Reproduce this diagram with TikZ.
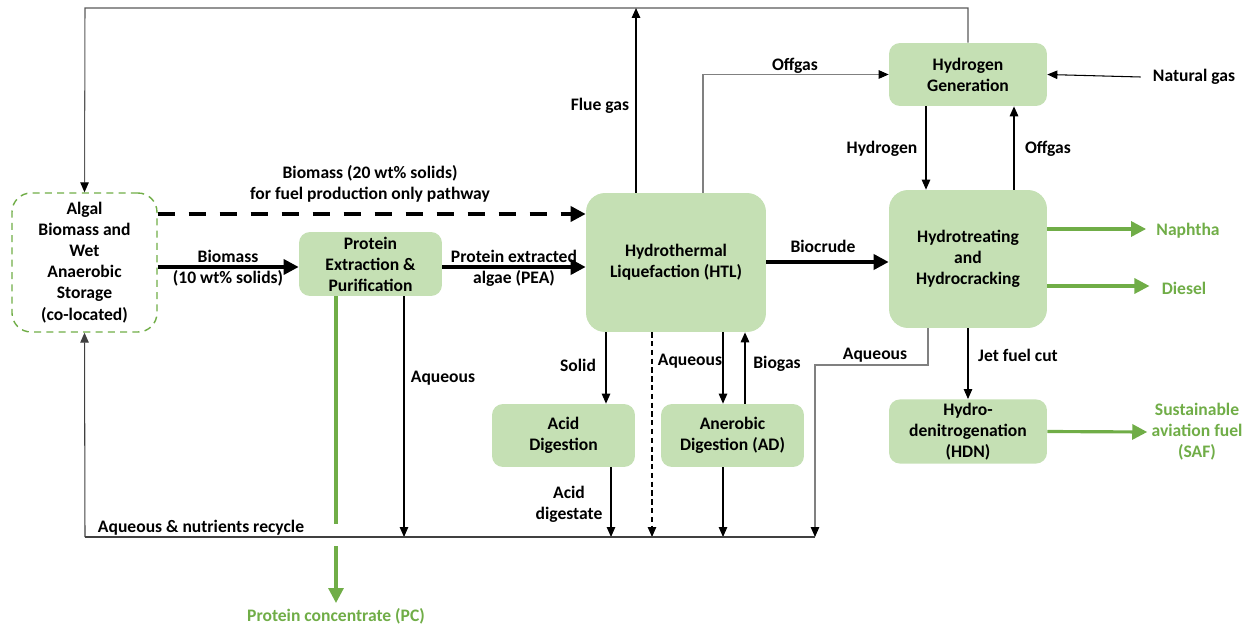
\documentclass[tikz,border=0pt]{standalone}
\usepackage{fontspec}
\setmainfont{Carlito}
\usepackage{xcolor}
\usepackage{tikz}
\usetikzlibrary{positioning,calc,arrows.meta}

\definecolor{boxgreen}{HTML}{C5E0B4}
\definecolor{leafgreen}{HTML}{70AD47}

\tikzset{
	unit/.style={fill=boxgreen, rounded corners=0.22cm, align=center, inner sep=2pt, font=\bfseries\fontsize{10}{12}\selectfont},
	bigunit/.style={unit, rounded corners=0.38cm},
	lbl/.style={align=center, inner sep=0, font=\bfseries\fontsize{10}{12}\selectfont},
	flow/.style={line width=0.6pt, -{Triangle[length=0.2cm,width=0.17cm]}},
	feed/.style={black!50, line width=0.6pt, -{Triangle[length=0.2cm,width=0.17cm,black]}},
	mainflow/.style={line width=2pt, -{Triangle[length=0.3cm,width=0.3cm]}},
	product/.style={leafgreen, line width=1.8pt, -{Triangle[length=0.3cm,width=0.3cm]}},
}

\begin{document}
\begin{tikzpicture}[x=0.02cm, y=-0.02cm]
	\useasboundingbox (0,0) rectangle (1254,628);

	\node[bigunit, fill=none, draw=leafgreen, dashed, dash pattern=on 4pt off 3pt, line width=0.8pt, minimum width=2.9cm, minimum height=2.78cm] (store) at (84.5,262.5) {Algal\\Biomass and\\Wet\\Anaerobic\\Storage\\(co-located)};
	\node[unit, minimum width=2.86cm, minimum height=1.28cm] (pe) at (370.5,264) {Protein\\Extraction \&\\Purification};
	\node[bigunit, minimum width=3.6cm, minimum height=2.78cm] (htl) at (676,262.5) {Hydrothermal\\Liquefaction (HTL)};
	\node[unit, minimum width=3.16cm, minimum height=1.26cm] (hg) at (968,74.5) {Hydrogen\\Generation};
	\node[bigunit, minimum width=3.16cm, minimum height=2.76cm] (ht) at (968,259) {Hydrotreating\\and\\Hydrocracking};
	\node[unit, minimum width=2.86cm, minimum height=1.26cm] (acd) at (563.5,435.5) {Acid\\Digestion};
	\node[unit, minimum width=2.86cm, minimum height=1.26cm] (ad) at (732.5,435.5) {Anerobic\\Digestion (AD)};
	\node[unit, minimum width=3.16cm, minimum height=1.26cm] (hdn) at (968,431.5) {Hydro-\\denitrogenation\\(HDN)};

	\node[lbl] (ng) at (1194,77) {Natural gas};
	\node[lbl, text=leafgreen] (naphtha) at (1188,231) {Naphtha};
	\node[lbl, text=leafgreen] (diesel) at (1184,288) {Diesel};
	\node[lbl, text=leafgreen] (saf) at (1197,432) {Sustainable\\aviation fuel\\(SAF)};
	\node[lbl, text=leafgreen] (pclbl) at (336,616) {Protein concentrate (PC)};

	\coordinate (topL) at (85,8);
	\coordinate (flue) at (636,8);
	\coordinate (botL) at (85,537);
	\coordinate (botR) at (815,537);
	\coordinate (pc) at (336,603);

	\draw[feed, black!65] (hg.north) |- (topL) -- (store.north);
	\draw[flow, line width=0.9pt] (htl.north -| flue) -- (flue);
	\draw[feed] (htl.north -| 703,0) |- (hg.west);
	\draw[flow] ([xshift=-0.24cm]ng.west) -- (hg.east);
	\draw[flow] (hg.south -| 926,0) -- (ht.north -| 926,0);
	\draw[flow, line width=0.9pt] (ht.north -| 1014,0) -- (hg.south -| 1014,0);
	\draw[product] (ht.east |- 0,229) -- ([xshift=-0.2cm]naphtha.west |- 0,229);
	\draw[product] (ht.east |- 0,286) -- ([xshift=-0.24cm]diesel.west |- 0,286);
	\draw[mainflow] (htl.east |- 0,262) -- (ht.west |- 0,262);
	\draw[flow] (ht.south) -- (hdn.north);
	\draw[product] (hdn.east) -- ([xshift=-0.08cm]saf.west);
	\draw[feed] (ht.south -| 928,0) -- (928,365) -| (botR);

	\draw[mainflow, dash pattern=on 0.34cm off 0.28cm] (store.east |- 0,214) -- (htl.west |- 0,214);
	\draw[mainflow] (store.east |- 0,267) -- (pe.west |- 0,267);
	\draw[mainflow] (pe.east |- 0,267) -- (htl.west |- 0,267);

	\draw[leafgreen, line width=1.8pt] (pe.south -| pc) -- (336,524);
	\draw[product] (336,546) -- (pc);
	\draw[flow] (pe.south -| 404,0) -- (botL -| 404,0);

	\draw[flow] (htl.south -| 606,0) -- (acd.north -| 606,0);
	\draw[flow, dash pattern=on 3pt off 2pt] (htl.south -| 652,0) -- (botL -| 652,0);
	\draw[flow] (htl.south -| 723,0) -- (ad.north -| 723,0);
	\draw[flow, line width=0.9pt] (ad.north -| 745,0) -- (htl.south -| 745,0);
	\draw[flow] (acd.south -| 611,0) -- (botL -| 611,0);
	\draw[flow] (ad.south -| 723,0) -- (botL -| 723,0);

	\draw[black!75, line width=0.6pt] (botR) -- (botL);
	\draw[flow, black!75] (botL) -- (store.south);

	\node[lbl] at (600,106) {Flue gas};
	\node[lbl] at (795,66) {Offgas};
	\node[lbl] at (882,149) {Hydrogen};
	\node[lbl] at (1048,149) {Offgas};
	\node[lbl] at (823,246) {Biocrude};
	\node[lbl] at (1018,355) {Jet fuel cut};
	\node[lbl] at (875,355) {Aqueous};
	\node[lbl] at (370,184) {Biomass (20 wt\% solids)\\for fuel production only pathway};
	\node[lbl] at (228,268) {Biomass\\(10 wt\% solids)};
	\node[lbl] at (514,268) {Protein extracted\\algae (PEA)};
	\node[lbl] at (443,378) {Aqueous};
	\node[lbl] at (578,365) {Solid};
	\node[lbl] at (690,361) {Aqueous};
	\node[lbl] at (777,364) {Biogas};
	\node[lbl] at (569,504) {Acid\\digestate};
	\node[lbl] at (201,528) {Aqueous \& nutrients recycle};
\end{tikzpicture}
\end{document}
